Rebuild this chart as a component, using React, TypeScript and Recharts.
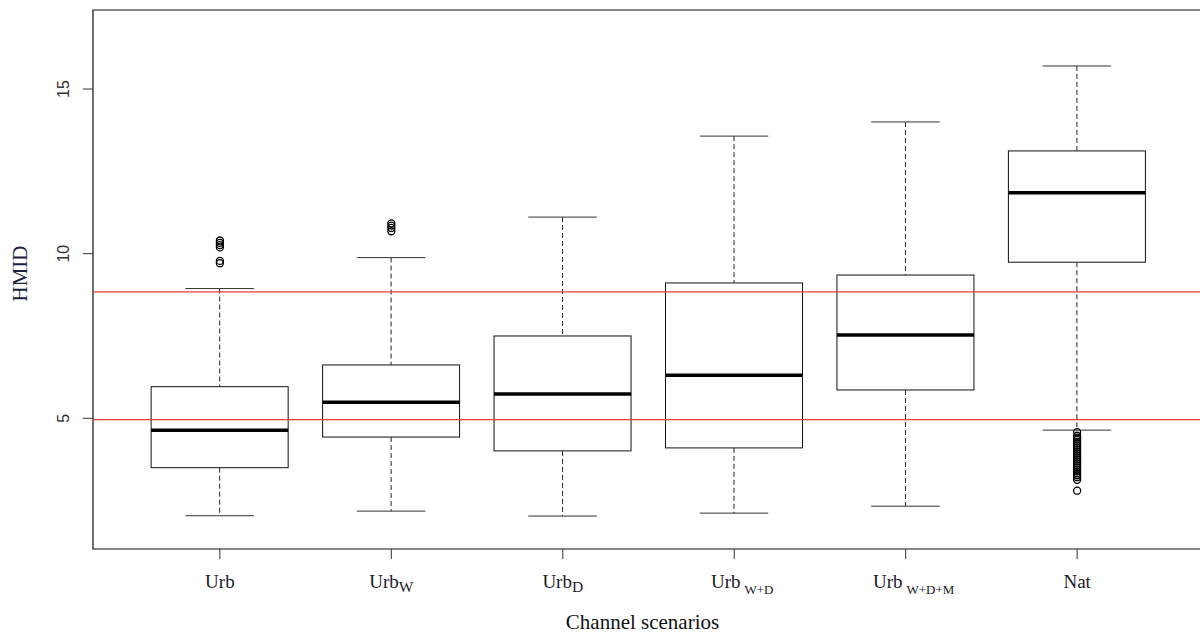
import React from 'react';
import {
  ComposedChart,
  Bar,
  Scatter,
  XAxis,
  YAxis,
  ReferenceLine,
  ReferenceArea,
} from 'recharts';

// channel scenarios
const categories = ['Urb', 'Urb', 'Urb', 'Urb', 'Urb', 'Nat'];
const subscripts = ['', 'W', 'D', 'W+D', 'W+D+M', ''];

// box statistics (HMID)
const whiskerLow = [2.04, 2.18, 2.03, 2.12, 2.33, 4.64];
const quartile1 = [3.5, 4.43, 4.01, 4.1, 5.86, 9.74];
const medians = [4.64, 5.49, 5.74, 6.31, 7.53, 11.85];
const quartile3 = [5.96, 6.62, 7.5, 9.11, 9.35, 13.12];
const whiskerHigh = [8.94, 9.88, 11.11, 13.57, 14.0, 15.7];

// outliers per scenario
const outliersUrb = [10.4, 10.33, 10.26, 10.19, 9.78, 9.71];
const outliersUrbW = [10.92, 10.85, 10.78, 10.68];
const outliersNat = [
  4.58, 4.47, 4.41, 4.35, 4.29, 4.23, 4.17, 4.11, 4.05, 3.99, 3.93, 3.87,
  3.81, 3.75, 3.69, 3.63, 3.57, 3.51, 3.45, 3.39, 3.33, 3.27, 3.21, 3.13, 2.8,
];

// threshold lines
const thresholds = [8.84, 4.96];

const yTicks = [5, 10, 15];
const xTicks = [1, 2, 3, 4, 5, 6];

const boxData = categories.map((c, i) => ({
  x: i + 1,
  range: [whiskerLow[i], whiskerHigh[i]],
  lo: whiskerLow[i],
  q1: quartile1[i],
  med: medians[i],
  q3: quartile3[i],
  hi: whiskerHigh[i],
}));

const outlierData = [
  ...outliersUrb.map((v) => ({ x: 1, y: v })),
  ...outliersUrbW.map((v) => ({ x: 2, y: v })),
  ...outliersNat.map((v) => ({ x: 6, y: v })),
];

const SERIF = '"Liberation Serif", "Times New Roman", serif';
const SANS = '"Liberation Sans", Arial, sans-serif';

const BoxShape = (props: any) => {
  const { x, y, width, height, payload } = props;
  if (!payload || !height) return null;
  const ppu = height / (payload.hi - payload.lo);
  const toY = (v: number) => y + (payload.hi - v) * ppu;
  const cx = x + width / 2;
  const cap = width / 4;
  const yQ3 = toY(payload.q3);
  const yQ1 = toY(payload.q1);
  const yMed = toY(payload.med);
  const yLo = y + height;
  return (
    <g>
      <line x1={cx} x2={cx} y1={y} y2={yQ3} stroke="#222" strokeDasharray="5 3" />
      <line x1={cx} x2={cx} y1={yQ1} y2={yLo} stroke="#222" strokeDasharray="5 3" />
      <line x1={cx - cap} x2={cx + cap} y1={y} y2={y} stroke="#333" />
      <line x1={cx - cap} x2={cx + cap} y1={yLo} y2={yLo} stroke="#333" />
      <rect x={x} y={yQ3} width={width} height={yQ1 - yQ3} fill="#fff" stroke="#111" />
      <line x1={x} x2={x + width} y1={yMed} y2={yMed} stroke="#000" strokeWidth={3.5} />
    </g>
  );
};

const OutlierShape = (props: any) => {
  const { cx, cy } = props;
  return <circle cx={cx} cy={cy} r={3.5} fill="none" stroke="#000" strokeWidth={1.3} />;
};

const XTick = (props: any) => {
  const { x, y, payload } = props;
  const i = payload.value - 1;
  const sub = subscripts[i] || '';
  const longSub = sub.length > 1;
  return (
    <text
      x={x}
      y={y + 27}
      textAnchor="middle"
      fontFamily={SERIF}
      fontSize={19}
      fill="#1a1a2a"
    >
      <tspan dx={longSub ? 8 : 0}>{categories[i]}</tspan>
      {sub && (
        <tspan dx={longSub ? 4 : 0} dy={longSub ? 6 : 4} fontSize={longSub ? 13 : 15.5}>
          {sub}
        </tspan>
      )}
    </text>
  );
};

const YTick = (props: any) => {
  const { y, payload } = props;
  const bx = 69;
  return (
    <text
      x={bx}
      y={y}
      transform={`rotate(-90, ${bx}, ${y})`}
      textAnchor="middle"
      fontFamily={SANS}
      fontSize={16}
      fill="#333"
    >
      {payload.value}
    </text>
  );
};

export default function App() {
  return (
    <div
      style={{
        position: 'fixed',
        left: 0,
        top: 0,
        width: 1200,
        height: 637,
        overflow: 'hidden',
        background: '#fff',
      }}
    >
      <ComposedChart
        width={1260}
        height={637}
        data={boxData}
        margin={{ top: 10, right: 56, left: 10, bottom: 28 }}
      >
        <XAxis
          dataKey="x"
          type="number"
          domain={[0.26, 6.74]}
          ticks={xTicks}
          allowDataOverflow
          axisLine={false}
          tickSize={10}
          tickMargin={2}
          tickLine={{ stroke: '#333' }}
          tick={<XTick />}
          height={60}
          interval={0}
          label={{
            content: (p: any) => {
              const vb = p.viewBox;
              return (
                <text
                  x={vb.x + vb.width / 2 - 6}
                  y={629}
                  textAnchor="middle"
                  fontFamily={SERIF}
                  fontSize={21}
                  fill="#111"
                >
                  Channel scenarios
                </text>
              );
            },
          }}
        />
        <YAxis
          type="number"
          domain={[1.03, 17.4]}
          ticks={yTicks}
          allowDataOverflow
          axisLine={false}
          tickSize={10}
          tickLine={{ stroke: '#333' }}
          tick={<YTick />}
          width={83}
          label={{
            content: (p: any) => {
              const vb = p.viewBox;
              const cy = vb.y + vb.height / 2 - 6;
              return (
                <text
                  x={27}
                  y={cy}
                  transform={`rotate(-90, 27, ${cy})`}
                  textAnchor="middle"
                  fontFamily={SERIF}
                  fontSize={21}
                  fill="#1a2040"
                >
                  HMID
                </text>
              );
            },
          }}
        />
        <ReferenceArea
          x1={0.26}
          x2={6.74}
          y1={1.03}
          y2={17.4}
          fill="none"
          stroke="#111"
          strokeWidth={1.2}
          ifOverflow="visible"
        />
        <Bar dataKey="range" barSize={137} shape={<BoxShape />} isAnimationActive={false} />
        <Scatter
          data={outlierData}
          dataKey="y"
          shape={<OutlierShape />}
          isAnimationActive={false}
        />
        {thresholds.map((t) => (
          <ReferenceLine key={t} y={t} stroke="#f23c3c" strokeWidth={1.4} />
        ))}
      </ComposedChart>
    </div>
  );
}
